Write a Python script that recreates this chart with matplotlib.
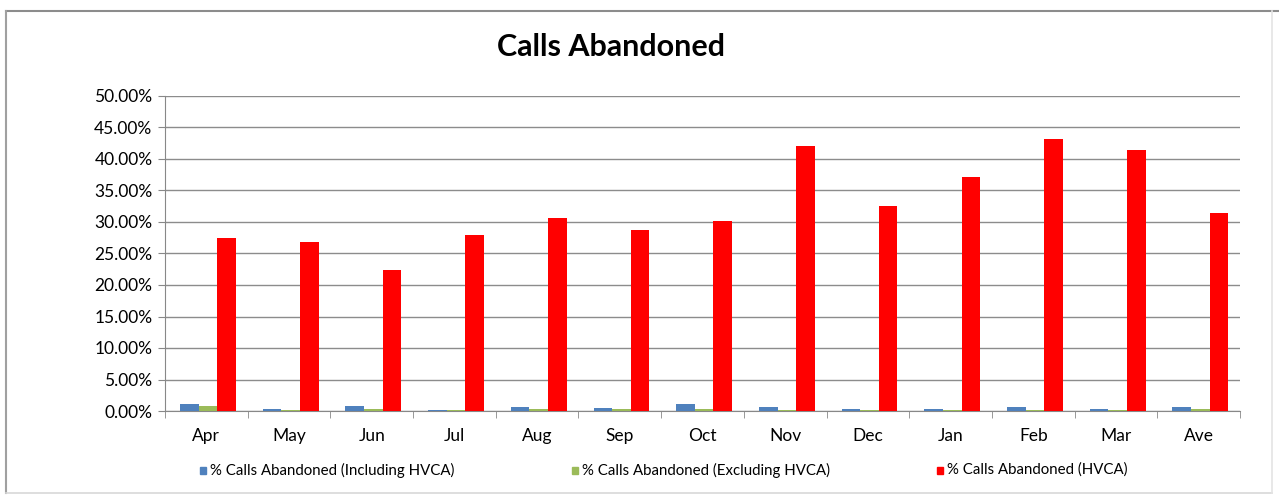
import matplotlib.pyplot as plt
import numpy as np
from matplotlib.lines import Line2D
from matplotlib.patches import Rectangle
from matplotlib.ticker import FuncFormatter, MultipleLocator

plt.rcParams['font.family'] = ['Lato', 'DejaVu Sans']

months = ["Apr", "May", "Jun", "Jul", "Aug", "Sep", "Oct", "Nov", "Dec", "Jan", "Feb", "Mar", "Ave"]
incl_hvca = [1.1, 0.3, 0.8, 0.2, 0.7, 0.5, 1.1, 0.7, 0.3, 0.3, 0.6, 0.3, 0.6]
excl_hvca = [0.8, 0.1, 0.3, 0.1, 0.3, 0.3, 0.3, 0.1, 0.1, 0.1, 0.1, 0.1, 0.3]
hvca = [27.4, 26.9, 22.4, 27.9, 30.7, 28.8, 30.1, 42.1, 32.5, 37.1, 43.1, 41.4, 31.5]

labels = ["% Calls Abandoned (Including HVCA)",
          "% Calls Abandoned (Excluding HVCA)",
          "% Calls Abandoned (HVCA)"]
colors = ["#4f81bd", "#9bbb59", "#ff0000"]

W, H = 1279, 497
fig = plt.figure(figsize=(W / 100, H / 100), dpi=100)


def fx(px):
    return px / W


def fy(py):
    return 1 - py / H


# outer chart border (top/left darker, bottom/right faint)
fig.add_artist(Line2D([fx(6), fx(1279)], [fy(11), fy(11)], color="#8c8c8c", lw=1.5))
fig.add_artist(Line2D([fx(6), fx(6)], [fy(11), fy(493)], color="#a0a0a0", lw=1.5))
fig.add_artist(Line2D([fx(6), fx(1272)], [fy(493), fy(493)], color="#d8d8d8", lw=1.2))
fig.add_artist(Line2D([fx(1272), fx(1272)], [fy(11), fy(493)], color="#e4e4e4", lw=1.2))

ax = fig.add_axes([fx(165), fy(411), fx(1075), 315 / H])

x = np.arange(len(months))
w = 0.225
for i, (vals, c, lab) in enumerate(zip([incl_hvca, excl_hvca, hvca], colors, labels)):
    ax.bar(x + (i - 1) * w + 0.02, vals, w, color=c, label=lab, zorder=3)

ax.set_xlim(-0.5, len(months) - 0.5)
ax.set_ylim(0, 50)
ax.yaxis.set_major_locator(MultipleLocator(5))
ax.yaxis.set_major_formatter(FuncFormatter(lambda v, p: f"{v:.2f}%"))
ax.set_xticks(x)
ax.set_xticklabels(months)
ax.set_xticks(np.arange(-0.5, len(months), 1), minor=True)
ax.tick_params(axis="x", which="major", length=0, pad=12, labelsize=12.5)
ax.tick_params(axis="x", which="minor", length=5, color="#888888")
ax.tick_params(axis="y", length=5, color="#888888", labelsize=12.5, pad=4)
ax.grid(axis="y", color="#8c8c8c", linewidth=1, zorder=0)
for s in ["top", "right"]:
    ax.spines[s].set_visible(False)
for s in ["left", "bottom"]:
    ax.spines[s].set_color("#888888")

fig.text(fx(611), fy(47), "Calls Abandoned", ha="center", va="center",
         fontsize=22, fontweight="bold")

leg_x = [200, 572, 937]
for lx, c, lab in zip(leg_x, colors, labels):
    fig.patches.append(Rectangle((fx(lx), fy(474)), fx(6), 7 / H,
                                 transform=fig.transFigure, color=c))
    fig.text(fx(lx + 10), fy(470), lab, ha="left", va="center", fontsize=10.8)

plt.savefig("out.png", dpi=100)
